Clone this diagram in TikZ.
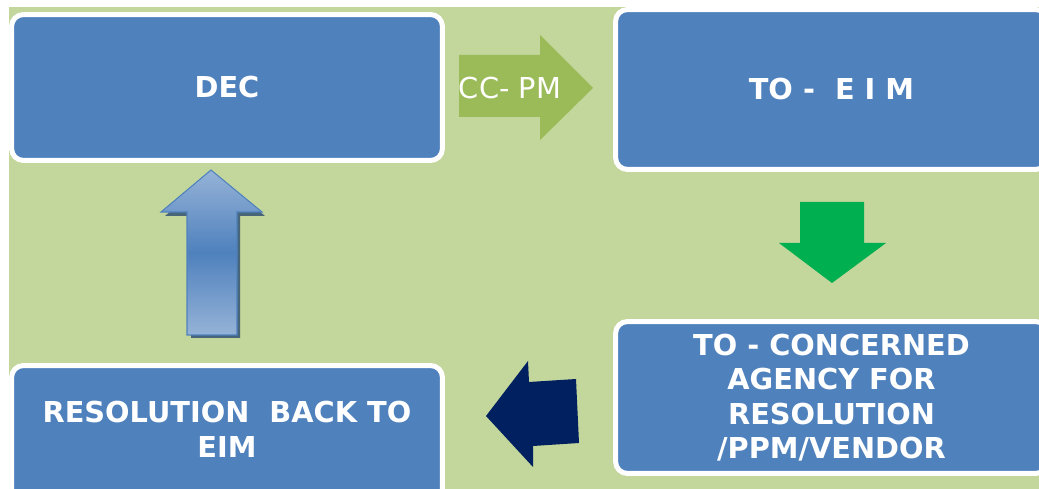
\documentclass[tikz,border=0pt]{standalone}
\usepackage{fontspec}
\setmainfont{DejaVu Sans}
\usetikzlibrary{positioning}
\definecolor{bggreen}{HTML}{C3D69B}
\definecolor{boxblue}{HTML}{4F81BD}
\definecolor{pmgreen}{HTML}{9BBB59}
\definecolor{flowgreen}{HTML}{00B050}
\definecolor{backnavy}{HTML}{002060}
\definecolor{paleblue}{HTML}{95B3D7}
\definecolor{shadeblue}{HTML}{2A4A72}
\tikzset{
        stage/.style={draw=white, line width=0.1cm, fill=boxblue,
                      rounded corners=0.24cm, text=white, align=center,
                      inner sep=0pt,
                      font=\fontsize{16.4}{19.6}\selectfont\bfseries},
        wide/.style={minimum width=8.62cm},
        arrowlabel/.style={text=white, inner sep=0pt,
                           font=\fontsize{16.4}{19.6}\selectfont},
        uparrow/.style={draw=boxblue, line width=0.6pt, top color=paleblue,
                        bottom color=paleblue, middle color=boxblue},
}

\begin{document}
\begin{tikzpicture}[x=0.02cm, y=-0.02cm]
    \useasboundingbox (0,0) rectangle (1039,489);
    \clip (0,0) rectangle (1039,489);
    \fill[bggreen] (9,7) rectangle (1039,489);

    % the four stages
    \node[stage, wide, minimum height=2.92cm] (dec) at (227,87.5) {DEC};
    \node[stage, minimum width=8.64cm, minimum height=3.2cm] (eim) at (831.5,89.5) {TO -~ E I M};
    \node[stage, minimum width=8.64cm, minimum height=3.04cm] (agency) at (831.5,397.5)
        {TO - CONCERNED\\AGENCY FOR\\RESOLUTION\\/PPM/VENDOR};
    \node[stage, wide, minimum height=2.92cm] (back) at (227,438.5)
        {RESOLUTION~ BACK TO\\EIM\rule[-0.36cm]{0pt}{0pt}};

    % CC- PM arrow
    \fill[pmgreen] (459,55) -- (540,55) -- (540,35) -- (593,88) -- (540,140)
        -- (540,117) -- (459,117) -- cycle;
    \node[arrowlabel] (ccpm) at (510,88) {CC- PM};

    % down to the agency
    \fill[flowgreen] (800,202) -- (864,202) -- (864,243) -- (886,243) -- (832,283)
        -- (779,243) -- (800,243) -- cycle;

    % back to EIM
    \fill[backnavy] (486,416) -- (528,361) -- (529,382) -- (576,379) -- (579,443)
        -- (533,446) -- (533,467) -- cycle;

    % up to DEC
    \fill[shadeblue, opacity=0.8] (214,173) -- (265,216) -- (240,216) -- (240,338)
        -- (191,338) -- (191,216) -- (165,216) -- cycle;
    \path[uparrow] (211,170) -- (262,212) -- (237,212) -- (237,335)
        -- (187,335) -- (187,212) -- (161,212) -- cycle;
\end{tikzpicture}
\end{document}
